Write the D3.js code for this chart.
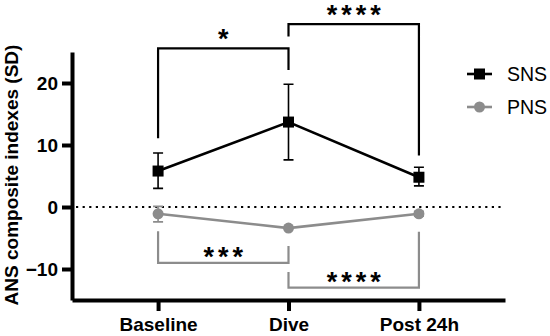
<!DOCTYPE html>
<html>
<head>
<meta charset="utf-8">
<script src="https://cdn.jsdelivr.net/npm/d3@7"></script>
<style>
  body { margin: 0; background: #fff; }
  text { font-family: Arial, "Liberation Sans", sans-serif; }
</style>
</head>
<body>
<svg id="chart" width="550" height="336"></svg>
<script>
var categories = ["Baseline", "Dive", "Post 24h"];
var snsMean = [5.8, 13.7, 4.8];
var snsLow = [3.0, 7.6, 3.4];
var snsHigh = [8.7, 19.8, 6.4];
var pnsMean = [-1.1, -3.4, -1.1];
var pnsLow = [-2.4, -3.4, -1.5];
var pnsHigh = [0.1, -3.4, -0.7];
var yTicks = [-10, 0, 10, 20];

// significance brackets: [from, to, level, leftEnd, rightEnd, stars]
var snsBrackets = [
    ["Baseline", "Dive", 25.6, 11.1, 22.1, "*"],
    ["Dive", "Post 24h", 29.5, 27.5, 8.3, "****"]
];
var pnsBrackets = [
    ["Baseline", "Dive", -9.0, -3.9, -6.3, "***"],
    ["Dive", "Post 24h", -13.0, -10.5, -4.0, "****"]
];

var svg = d3.select("#chart");
var pLeft = 72, pRight = 505, pTop = 52, pBottom = 300;
var font = "Arial, 'Liberation Sans', sans-serif";

var x = d3.scalePoint()
    .domain(categories)
    .range([pLeft, pRight])
    .padding(0.66);

var y = d3.scaleLinear()
    .domain([-15, 25])
    .range([pBottom, pTop]);

var grey = "#8c8c8c";

// zero line
svg.append("line")
    .attr("x1", pLeft + 4).attr("x2", 502)
    .attr("y1", y(0)).attr("y2", y(0))
    .attr("stroke", "#000")
    .attr("stroke-width", 2.2)
    .attr("stroke-dasharray", "2.2,4.4");

// axes
var yAxis = svg.append("g")
    .attr("transform", "translate(" + pLeft + ",0)")
    .call(d3.axisLeft(y).tickValues(yTicks).tickSize(10).tickPadding(4).tickSizeOuter(0));
yAxis.select(".domain").attr("stroke-width", 4);
yAxis.selectAll(".tick line").attr("stroke-width", 4);
yAxis.selectAll(".tick text")
    .attr("font-size", 19).attr("font-weight", "bold")
    .attr("font-family", font);

var xAxis = svg.append("g")
    .attr("transform", "translate(0," + pBottom + ")")
    .call(d3.axisBottom(x).tickSize(11).tickPadding(7).tickSizeOuter(0));
xAxis.select(".domain").attr("stroke-width", 4);
xAxis.selectAll(".tick line").attr("stroke-width", 4);
xAxis.selectAll(".tick text")
    .attr("font-size", 19).attr("font-weight", "bold")
    .attr("font-family", font);

svg.append("text")
    .attr("transform", "translate(18,175) rotate(-90)")
    .attr("text-anchor", "middle")
    .attr("font-size", 19)
    .attr("font-weight", "bold")
    .text("ANS composite indexes (SD)");

function drawBrackets(list, color) {
    list.forEach(function (b) {
        var x1 = x(b[0]), x2 = x(b[1]), yl = y(b[2]);
        svg.append("path")
            .attr("d", "M" + x1 + "," + y(b[3]) + "V" + yl + "H" + x2 + "V" + y(b[4]))
            .attr("fill", "none")
            .attr("stroke", color)
            .attr("stroke-width", 2.2);
        var above = b[2] > b[3];
        svg.append("text")
            .attr("x", (x1 + x2) / 2 + 2)
            .attr("y", above ? yl + 0 : yl + 3)
            .attr("text-anchor", "middle")
            .attr("font-size", 27)
            .attr("font-weight", "bold")
            .attr("letter-spacing", 4)
            .attr("fill", "#000")
            .text(b[5]);
    });
}

function drawSeries(mean, low, high, color, shape) {
    var pts = categories.map(function (c, i) {
        return {c: c, m: mean[i], lo: low[i], hi: high[i]};
    });
    var g = svg.append("g");
    pts.forEach(function (d) {
        if (d.hi - d.lo > 0.2) {
            var cx = x(d.c);
            g.append("path")
                .attr("d", "M" + cx + "," + y(d.lo) + "V" + y(d.hi) +
                    "M" + (cx - 5) + "," + y(d.lo) + "H" + (cx + 5) +
                    "M" + (cx - 5) + "," + y(d.hi) + "H" + (cx + 5))
                .attr("fill", "none")
                .attr("stroke", color)
                .attr("stroke-width", 1.6);
        }
    });
    g.append("path")
        .datum(pts)
        .attr("fill", "none")
        .attr("stroke", color)
        .attr("stroke-width", 2.6)
        .attr("d", d3.line().x(function (d) { return x(d.c); }).y(function (d) { return y(d.m); }));
    pts.forEach(function (d) {
        if (shape === "square") {
            g.append("rect")
                .attr("x", x(d.c) - 5.5).attr("y", y(d.m) - 5.5)
                .attr("width", 11).attr("height", 11)
                .attr("fill", color);
        } else {
            g.append("circle")
                .attr("cx", x(d.c)).attr("cy", y(d.m)).attr("r", 5.5)
                .attr("fill", color);
        }
    });
}

drawBrackets(snsBrackets, "#000");
drawBrackets(pnsBrackets, grey);
drawSeries(snsMean, snsLow, snsHigh, "#000", "square");
drawSeries(pnsMean, pnsLow, pnsHigh, grey, "circle");

// legend
var legend = svg.append("g")
    .selectAll("g")
    .data([["SNS", "#000", "square"], ["PNS", grey, "circle"]])
    .enter().append("g")
    .attr("transform", function (d, i) { return "translate(467," + (74 + i * 33) + ")"; });
legend.append("line")
    .attr("x1", 0).attr("x2", 25)
    .attr("stroke", function (d) { return d[1]; })
    .attr("stroke-width", 2.6);
legend.each(function (d) {
    var s = d3.select(this);
    if (d[2] === "square") {
        s.append("rect").attr("x", 7).attr("y", -5.5).attr("width", 11).attr("height", 11).attr("fill", d[1]);
    } else {
        s.append("circle").attr("cx", 12.5).attr("r", 5.5).attr("fill", d[1]);
    }
});
legend.append("text")
    .attr("x", 40)
    .attr("dy", "0.36em")
    .attr("font-size", 19.5)
    .text(function (d) { return d[0]; });
</script>
</body>
</html>
